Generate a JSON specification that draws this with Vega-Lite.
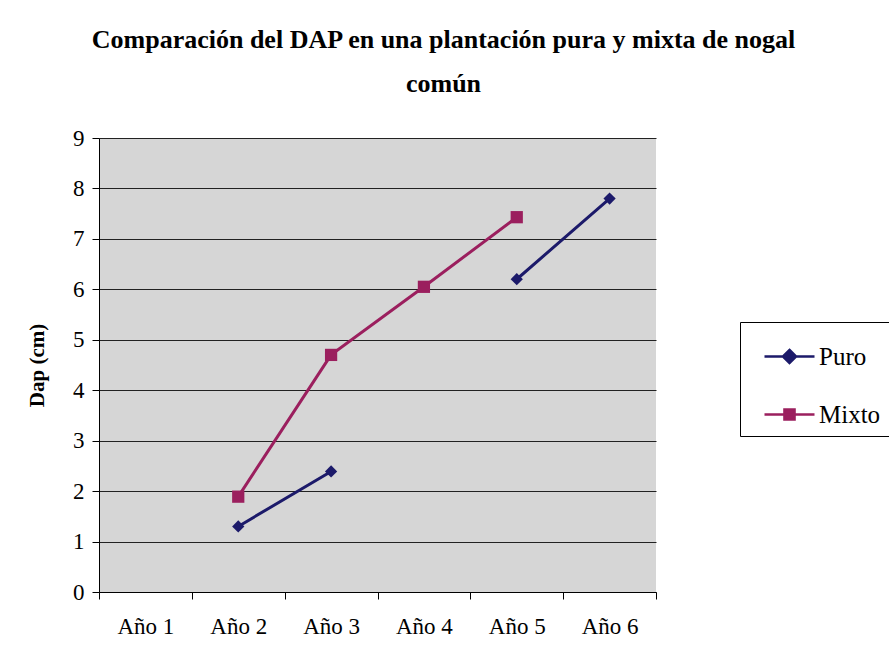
{
  "$schema": "https://vega.github.io/schema/vega-lite/v6.json",
  "width": 557,
  "height": 454,
  "autosize": {"type": "none"},
  "padding": {"left": 99, "top": 138, "right": 233, "bottom": 78},
  "background": "white",
  "title": {
    "text": ["Comparación del DAP en una plantación pura y mixta de nogal", "común"],
    "anchor": "middle",
    "frame": "group",
    "dx": 66,
    "offset": 30,
    "font": "Liberation Serif",
    "fontSize": 26,
    "fontWeight": "bold",
    "color": "black",
    "lineHeight": 44
  },
  "config": {
    "view": {"stroke": null, "fill": "#d6d6d6"},
    "font": "Liberation Serif"
  },
  "data": {
    "values": [
      {"serie": "Puro", "anio": "Año 2", "dap": 1.3},
      {"serie": "Puro", "anio": "Año 3", "dap": 2.39},
      {"serie": "Puro", "anio": "Año 4", "dap": null},
      {"serie": "Puro", "anio": "Año 5", "dap": 6.2},
      {"serie": "Puro", "anio": "Año 6", "dap": 7.8},
      {"serie": "Mixto", "anio": "Año 2", "dap": 1.89},
      {"serie": "Mixto", "anio": "Año 3", "dap": 4.7},
      {"serie": "Mixto", "anio": "Año 4", "dap": 6.05},
      {"serie": "Mixto", "anio": "Año 5", "dap": 7.43}
    ]
  },
  "encoding": {
    "x": {
      "field": "anio",
      "type": "nominal",
      "sort": null,
      "scale": {"type": "band", "domain": ["Año 1", "Año 2", "Año 3", "Año 4", "Año 5", "Año 6"], "paddingInner": 0, "paddingOuter": 0},
      "axis": {
        "title": null,
        "labelAngle": 0,
        "tickBand": "extent",
        "grid": false,
        "domainColor": "black",
        "tickColor": "black",
        "tickSize": 7,
        "labelPadding": 16,
        "labelFont": "Liberation Serif",
        "labelFontSize": 23,
        "labelColor": "black"
      }
    },
    "y": {
      "field": "dap",
      "type": "quantitative",
      "scale": {"domain": [0, 9], "nice": false},
      "axis": {
        "title": "Dap (cm)",
        "values": [0, 1, 2, 3, 4, 5, 6, 7, 8, 9],
        "grid": true,
        "gridColor": "#222222",
        "gridWidth": 1.2,
        "domainColor": "black",
        "tickColor": "black",
        "tickSize": 7,
        "labelPadding": 8,
        "labelFont": "Liberation Serif",
        "labelFontSize": 23,
        "labelColor": "black",
        "titleFont": "Liberation Serif",
        "titleFontSize": 21,
        "titleFontWeight": "bold",
        "titleColor": "black",
        "titlePadding": 25
      }
    },
    "color": {
      "field": "serie",
      "type": "nominal",
      "scale": {"domain": ["Puro", "Mixto"], "range": ["#1c1a6a", "#9b1f5e"]},
      "legend": null
    }
  },
  "layer": [
    {
      "mark": {"type": "line", "strokeWidth": 3, "invalid": "break-paths-show-domains"}
    },
    {
      "mark": {"type": "point", "filled": true, "opacity": 1, "size": 150},
      "encoding": {
        "shape": {"field": "serie", "type": "nominal", "scale": {"domain": ["Puro", "Mixto"], "range": ["diamond", "square"]}, "legend": null}
      }
    },
    {
      "mark": {"type": "point", "filled": true, "opacity": 0, "strokeWidth": 2.6},
      "encoding": {
        "shape": {
          "field": "serie",
          "type": "nominal",
          "scale": {"domain": ["Puro", "Mixto"], "range": ["M-1,0H1M0,-0.26L0.26,0L0,0.26L-0.26,0Z", "M-1,0H1M-0.2,-0.2H0.2V0.2H-0.2Z"]},
          "legend": {
            "title": null,
            "orient": "none",
            "legendX": 641,
            "legendY": 184,
            "strokeColor": "black",
            "fillColor": "white",
            "padding": 8,
            "rowPadding": 18,
            "symbolSize": 2500,
            "symbolOffset": 15,
            "symbolStrokeWidth": 2.6,
            "symbolOpacity": 1,
            "symbolFillColor": {"expr": "datum.value == 'Puro' ? '#1c1a6a' : '#9b1f5e'"},
            "symbolStrokeColor": {"expr": "datum.value == 'Puro' ? '#1c1a6a' : '#9b1f5e'"},
            "labelFont": "Liberation Serif",
            "labelFontSize": 25,
            "labelColor": "black",
            "labelOffset": 3
          }
        }
      }
    }
  ],
  "resolve": {"scale": {"shape": "independent"}}
}
